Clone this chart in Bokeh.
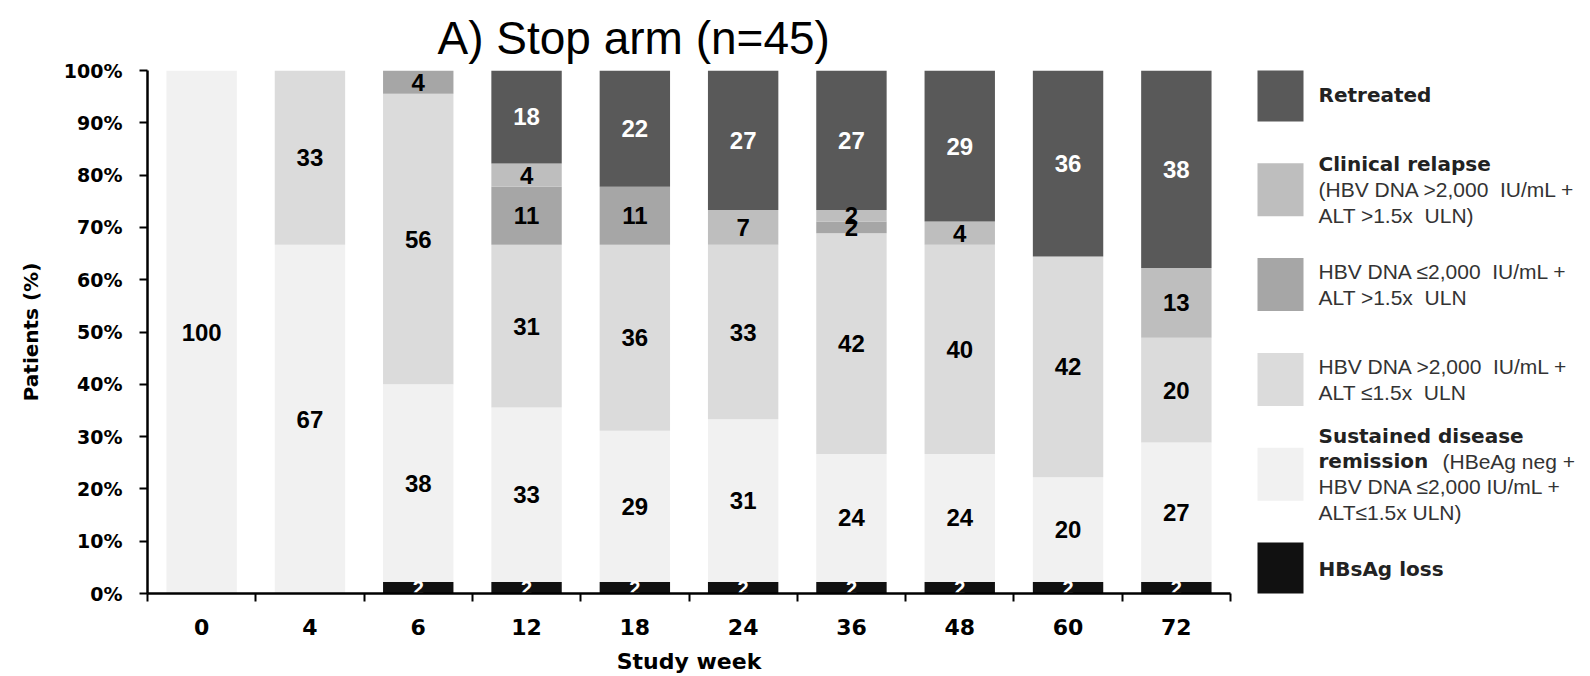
from bokeh.plotting import figure
from bokeh.models import (ColumnDataSource, FactorRange, Range1d, LinearAxis, FixedTicker,
                          CustomJSTickFormatter, PrintfTickFormatter)
from bokeh.layouts import row
from bokeh.core.properties import value
from bokeh.embed import file_html
from bokeh.resources import INLINE

# Stop arm, n = 45 patients; status counts per study week (bottom of the stack first)
N_PATIENTS = 45
weeks = ["0", "4", "6", "12", "18", "24", "36", "48", "60", "72"]

hbsag_loss = [0, 0, 1, 1, 1, 1, 1, 1, 1, 1]
remission = [45, 30, 17, 15, 13, 14, 11, 11, 9, 12]
dna_high_alt_normal = [0, 15, 25, 14, 16, 15, 19, 18, 19, 9]
dna_low_alt_high = [0, 0, 2, 5, 5, 0, 1, 0, 0, 0]
clinical_relapse = [0, 0, 0, 2, 0, 3, 1, 2, 0, 6]
retreated = [0, 0, 0, 8, 10, 12, 12, 13, 16, 17]

statuses = ["hbsag_loss", "remission", "dna_high_alt_normal",
            "dna_low_alt_high", "clinical_relapse", "retreated"]
counts = [hbsag_loss, remission, dna_high_alt_normal,
          dna_low_alt_high, clinical_relapse, retreated]
fills = ["#111111", "#f1f1f1", "#dbdbdb", "#a6a6a6", "#bebebe", "#595959"]
label_colors = ["white", "black", "black", "black", "black", "white"]

FONT_NUM = "Liberation Sans"
FONT_AXIS = "DejaVu Sans"
NBSP2 = "\u00a0\u00a0"

# percentages of patients
data = {"week": weeks}
for name, col in zip(statuses, counts):
    data[name] = [100.0 * c / N_PATIENTS for c in col]
source = ColumnDataSource(data)

p = figure(x_range=FactorRange(factors=weeks), y_range=Range1d(0, 100),
           width=1240, height=676, x_axis_type=None,
           min_border_left=147, min_border_right=10, min_border_top=70, min_border_bottom=83,
           toolbar_location=None, output_backend="svg")
p.outline_line_color = None
p.grid.visible = False

p.vbar_stack(statuses, x="week", width=0.65, color=fills, line_color=None, source=source)

# segment labels, centred in each segment
lx, ly, lt, lc, ls = [], [], [], [], []
for i, wk in enumerate(weeks):
    base = 0.0
    for k, name in enumerate(statuses):
        pct = data[name][i]
        if pct > 0:
            lx.append(wk)
            ly.append(base + pct / 2)
            lt.append(str(int(pct + 0.5)))
            lc.append(label_colors[k])
            ls.append("20px" if k == 0 else "24px")
        base += pct
labels = ColumnDataSource(dict(x=lx, y=ly, text=lt, color=lc, size=ls))
p.text(x="x", y="y", text="text", text_color="color", text_font_size="size",
       text_font=value(FONT_NUM), text_font_style="bold",
       text_align="center", text_baseline="middle", source=labels)

# y axis
yax = p.yaxis[0]
yax.ticker = FixedTicker(ticks=list(range(0, 101, 10)))
yax.formatter = PrintfTickFormatter(format="%d%%")
yax.axis_label = "Patients (%)"
yax.axis_label_text_font_size = "20px"
yax.axis_label_standoff = 18
yax.major_tick_out = 8
yax.major_tick_in = 0
yax.major_tick_line_width = 2
yax.major_tick_line_color = "black"
yax.minor_tick_line_color = None
yax.major_label_standoff = 17
yax.major_label_text_font_size = "19px"

# x axis: labels under each bar, tick marks between bars
xax = LinearAxis(
    ticker=FixedTicker(ticks=[i + 0.5 for i in range(len(weeks))],
                       minor_ticks=list(range(len(weeks) + 1))),
    formatter=CustomJSTickFormatter(args=dict(labels=weeks),
                                    code="const i = Math.floor(tick); return (i >= 0 && i < labels.length) ? labels[i] : '';"))
p.add_layout(xax, "below")
xax.axis_label = "Study week"
xax.axis_label_text_font_size = "22px"
xax.axis_label_standoff = 11
xax.major_tick_line_color = None
xax.major_tick_out = 0
xax.major_tick_in = 0
xax.minor_tick_line_color = "black"
xax.minor_tick_line_width = 2
xax.minor_tick_out = 8
xax.minor_tick_in = 0
xax.major_label_standoff = 17
xax.major_label_text_font_size = "22px"

for ax in (xax, yax):
    ax.axis_line_width = 2.5
    ax.axis_line_color = "black"
    ax.major_label_text_font = FONT_AXIS
    ax.major_label_text_font_style = "bold"
    ax.major_label_text_color = "black"
    ax.axis_label_text_font = FONT_AXIS
    ax.axis_label_text_font_style = "bold"
    ax.axis_label_text_color = "black"

p.title.text = "A) Stop arm (n=45)"
p.title.text_font = "Liberation Sans"
p.title.text_font_size = "46px"
p.title.text_font_style = "normal"
p.title.text_color = "black"
p.title.align = "left"
p.title.offset = 290
p.title.standoff = 14

# legend panel (its frame lines up with the chart frame, so y runs in page pixels 70..593)
leg = figure(width=350, height=676, x_range=Range1d(0, 350), y_range=Range1d(593, 70),
             x_axis_type=None, y_axis_type=None, min_border=0,
             toolbar_location=None, output_backend="svg")
leg.outline_line_color = None
leg.grid.visible = False

legend_entries = [
    (5, [[("Retreated", "bold")]]),
    (4, [[("Clinical relapse", "bold")],
         [("(HBV DNA >2,000" + NBSP2 + "IU/mL +", "normal")],
         [("ALT >1.5x" + NBSP2 + "ULN)", "normal")]]),
    (3, [[("HBV DNA \u22642,000" + NBSP2 + "IU/mL +", "normal")],
         [("ALT >1.5x" + NBSP2 + "ULN", "normal")]]),
    (2, [[("HBV DNA >2,000" + NBSP2 + "IU/mL +", "normal")],
         [("ALT \u22641.5x" + NBSP2 + "ULN", "normal")]]),
    (1, [[("Sustained disease", "bold")],
         [("remission", "bold"), ("(HBeAg neg +", "normal")],
         [("HBV DNA \u22642,000 IU/mL +", "normal")],
         [("ALT\u22641.5x ULN)", "normal")]]),
    (0, [[("HBsAg loss", "bold")]]),
]
SW_LEFT, SW_W, SW_H = 17, 46, 53
FIRST_TOP, STEP = 68, 94.8
TEXT_X, LINE_H, RUN_GAP = 78, 25.5, 124

sw = dict(x=[], y=[], color=[])
tb = dict(x=[], y=[], text=[])
tn = dict(x=[], y=[], text=[])
for j, (k, lines) in enumerate(legend_entries):
    top = FIRST_TOP + j * STEP
    cy = top + SW_H / 2
    sw["x"].append(SW_LEFT + SW_W / 2)
    sw["y"].append(cy)
    sw["color"].append(fills[k])
    n = len(lines)
    for li, runs in enumerate(lines):
        y = cy + (li - (n - 1) / 2) * LINE_H
        x = TEXT_X
        for text, style in runs:
            tgt = tb if style == "bold" else tn
            tgt["x"].append(x)
            tgt["y"].append(y)
            tgt["text"].append(text)
            x += RUN_GAP
leg.rect(x="x", y="y", width=SW_W, height=SW_H, color="color", line_color=None,
         source=ColumnDataSource(sw))
leg.text(x="x", y="y", text="text", source=ColumnDataSource(tb), text_font=value(FONT_AXIS),
         text_font_style="bold", text_font_size="20px", text_baseline="middle", text_color="#222222")
leg.text(x="x", y="y", text="text", source=ColumnDataSource(tn), text_font=value("Liberation Sans"),
         text_font_size="21px", text_baseline="middle", text_color="#333333")

layout = row(p, leg)
open("out.html", "w").write(file_html(layout, INLINE))
